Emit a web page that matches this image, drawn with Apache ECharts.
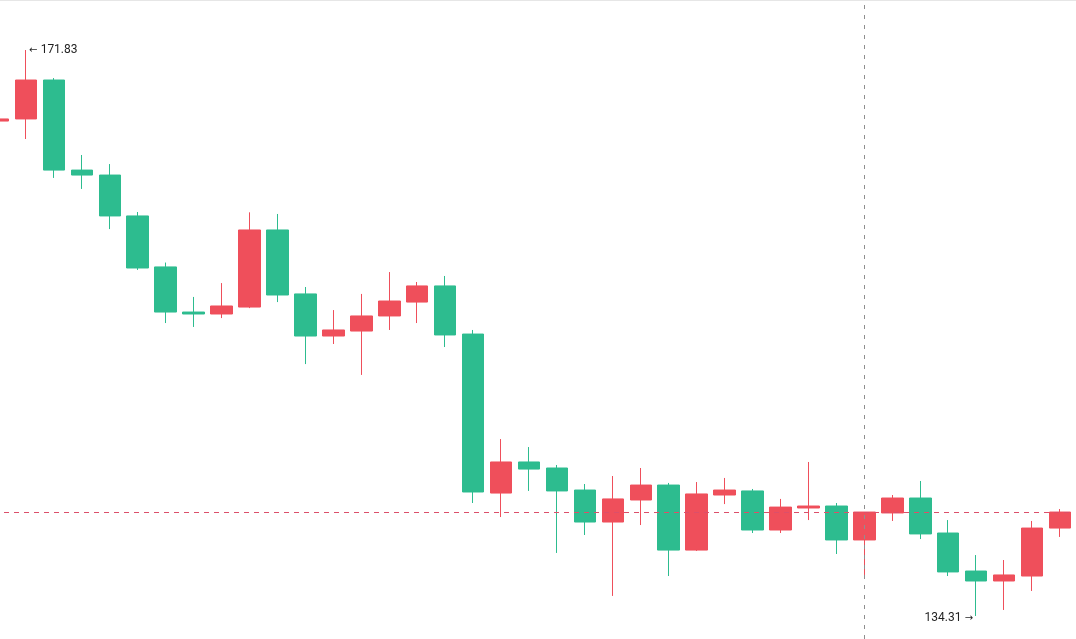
<!DOCTYPE html>
<html>
<head>
<meta charset="utf-8">
<script src="https://cdn.jsdelivr.net/npm/echarts@6/dist/echarts.min.js"></script>
<style>
html,body{margin:0;padding:0;background:#fff;overflow:hidden;}
#wrap{position:relative;width:1076px;height:639px;overflow:hidden;}
#topline{position:absolute;left:0;top:0;width:1076px;height:1px;background:#e6e6e6;}
#chart{position:absolute;left:-16px;top:0;width:1092px;height:639px;}
</style>
</head>
<body>
<div id="wrap"><div id="chart"></div><div id="topline"></div></div>
<script>
// ---- data ----
const categories = ['1','2','3','4','5','6','7','8','9','10','11','12','13','14','15','16','17','18','19','20',
  '21','22','23','24','25','26','27','28','29','30','31','32','33','34','35','36','37','38','39'];
const opens  = [167.12,167.26,169.84,163.87,163.54,160.83,157.45,154.46,154.33,154.79,159.90,155.66,152.87,153.20,154.20,155.12,156.19,153.00,142.46,144.52,
  144.12,142.66,140.54,142.00,142.99,138.68,142.33,142.60,140.01,141.47,141.60,139.35,141.14,142.13,139.81,137.29,136.63,136.96,140.14];
const closes = [167.26,169.84,163.87,163.54,160.83,157.38,154.46,154.33,154.86,159.90,155.59,152.87,153.27,154.20,155.19,156.19,152.94,142.53,144.52,144.05,
  142.60,140.54,142.07,142.99,138.68,142.40,142.66,140.01,141.53,141.60,139.35,141.20,142.13,139.75,137.23,136.63,137.03,140.14,141.20];
const lows   = [167.06,165.93,163.35,162.62,159.96,157.25,153.73,153.47,154.06,154.72,155.12,151.01,152.34,150.29,153.27,153.73,152.14,141.80,140.87,142.60,
  138.49,139.68,135.64,140.34,136.96,138.62,141.73,139.81,139.81,140.67,138.42,137.03,140.61,139.41,136.96,134.31,134.71,135.97,139.55];
const highs  = [167.32,171.83,169.97,164.87,164.27,161.09,157.74,155.46,156.38,161.07,160.96,156.12,154.59,155.66,157.11,156.45,156.85,153.27,146.04,145.51,
  144.32,143.06,143.59,144.12,143.13,143.19,143.46,142.73,142.07,144.52,141.80,141.20,142.33,143.26,140.67,138.35,138.02,140.61,141.40];
const lastPrice = 141.20;
const crosshairIndex = 31;
const maxLabelText = '171.83';
const minLabelText = '134.31';

const UP = '#ef4f5b';
const DOWN = '#2dbc8f';

const kdata = categories.map((c, i) => [opens[i], closes[i], lows[i], highs[i]]);
let maxI = 0, minI = 0;
highs.forEach((h, i) => { if (h > highs[maxI]) maxI = i; });
lows.forEach((l, i) => { if (l < lows[minI]) minI = i; });

const labelRich = {
  arr: {fontFamily: 'DejaVu Sans', fontSize: 10, color: '#1f1f1f'},
  num: {fontFamily: 'Roboto, sans-serif', fontSize: 12, color: '#1f1f1f'}
};

const chart = echarts.init(document.getElementById('chart'), null, {renderer: 'canvas'});
chart.setOption({
  animation: false,
  backgroundColor: 'transparent',
  grid: {left: 0, right: 2, top: 0, bottom: 0, containLabel: false},
  xAxis: {
    type: 'category',
    data: categories,
    boundaryGap: true,
    axisLine: {show: false},
    axisTick: {show: false},
    axisLabel: {show: false},
    splitLine: {show: false}
  },
  yAxis: {
    type: 'value',
    min: 132.785,
    max: 175.145,
    show: false,
    splitLine: {show: false}
  },
  series: [{
    type: 'candlestick',
    data: kdata,
    barWidth: 22,
    itemStyle: {
      color: UP, color0: DOWN,
      borderColor: UP, borderColor0: DOWN,
      borderWidth: 1
    },
    markLine: {
      silent: true,
      symbol: ['none', 'none'],
      label: {show: false},
      data: [
        {yAxis: lastPrice, lineStyle: {color: '#dc4f6a', type: [5, 5], width: 1}},
        {xAxis: categories[crosshairIndex], lineStyle: {color: '#8f8f8f', type: [4, 6], width: 1}}
      ]
    },
    markPoint: {
      silent: true,
      symbol: 'circle',
      symbolSize: 0,
      data: [
        {coord: [categories[maxI], highs[maxI]],
         label: {show: true, formatter: '{arr|←} {num|' + maxLabelText + '}', position: 'right', distance: 3,
                 rich: labelRich}},
        {coord: [categories[minI], lows[minI]],
         label: {show: true, formatter: '{num|' + minLabelText + '} {arr|→}', position: 'left', distance: 3,
                 offset: [0, 2], rich: labelRich}}
      ]
    }
  }]
});
</script>
</body>
</html>
